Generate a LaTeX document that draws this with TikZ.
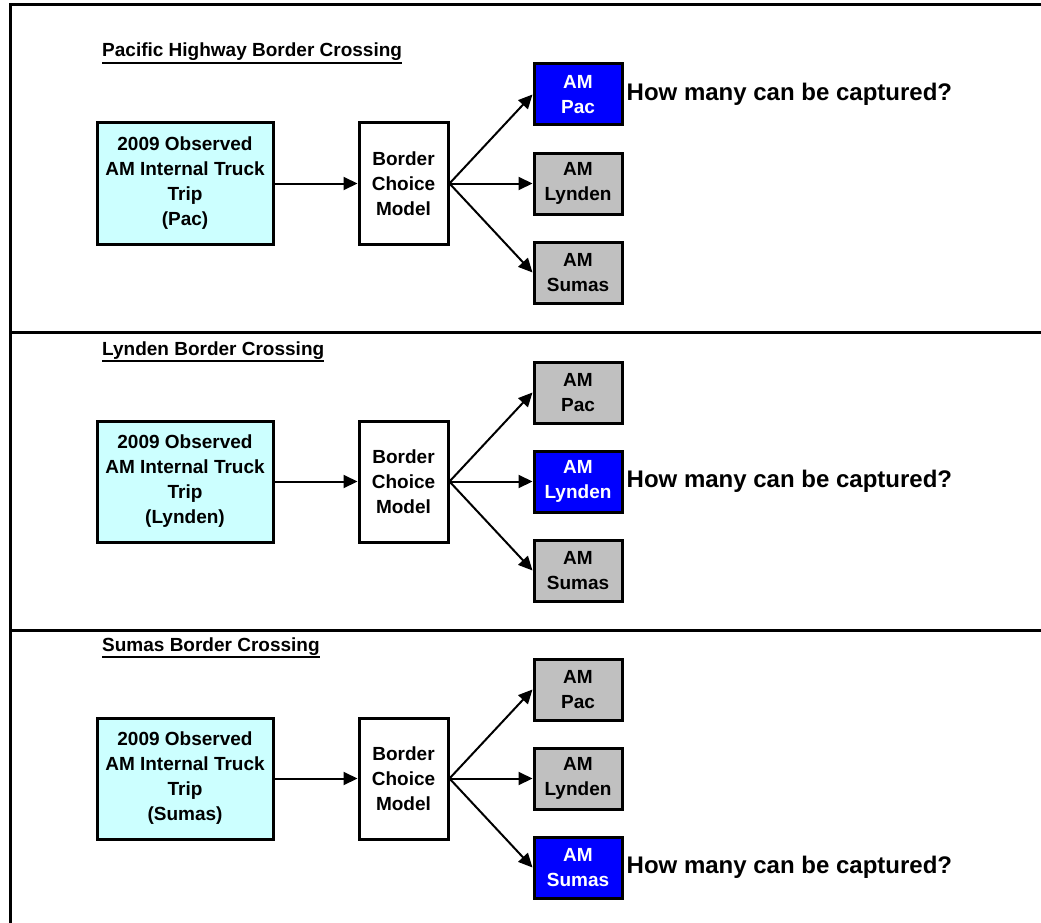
\documentclass[tikz,border=0pt]{standalone}
\usepackage{fontspec}
\setmainfont{Liberation Sans}
\usepackage{xcolor}
\usetikzlibrary{arrows.meta, positioning}

\definecolor{tripcyan}{RGB}{204,255,255}
\definecolor{gategray}{RGB}{192,192,192}
\definecolor{pickblue}{RGB}{0,0,255}

% underlined panel heading
\newcommand{\ulhead}[1]{\vtop{\hbox{#1}\kern1pt\hrule height 1.8pt}}

\begin{document}
\begin{tikzpicture}[
    x=1pt, y=-1pt,
    node distance=83pt,
    every node/.style={font=\bfseries\fontsize{19}{25}\selectfont},
    tripbox/.style={
        rectangle,
        minimum width=176pt,
        minimum height=121pt,
        align=center,
        fill=tripcyan,
        draw=black,
        line width=3pt
    },
    modelbox/.style={
        rectangle,
        minimum width=89pt,
        minimum height=121pt,
        align=center,
        fill=white,
        draw=black,
        line width=3pt
    },
    gatebox/.style={
        rectangle,
        minimum width=88pt,
        minimum height=61pt,
        align=center,
        fill=gategray,
        draw=black,
        line width=3pt
    },
    pickbox/.style={
        gatebox,
        fill=pickblue,
        text=white
    },
    heading/.style={anchor=base west, inner sep=0pt},
    question/.style={inner sep=2pt, font=\bfseries\fontsize{24}{28}\selectfont},
    arrow/.style={line width=2pt, -{Triangle[length=14pt, width=13pt]}}
]
\useasboundingbox (0,0) rectangle (1041,923);

% Panels
\draw[line width=3pt] (1041,4.5) -- (10.5,4.5) -- (10.5,923);
\draw[line width=3pt] (10.5,332) -- (1041,332);
\draw[line width=3pt] (10.5,630) -- (1041,630);

% Pacific Highway
\node (pachead) [heading] at (102,57) {\ulhead{Pacific Highway Border Crossing}};

\node (pactrip)  [tripbox] at (185,183.5)
    {2009 Observed\\AM Internal Truck\\Trip\\(Pac)};
\node (pacmodel) [modelbox, right=of pactrip] {Border\\Choice\\Model};
\node (paclyn)   [gatebox, right=of pacmodel] {AM\\Lynden};
\node (pacpac)   [pickbox, above=25pt of paclyn] {AM\\Pac};
\node (pacsum)   [gatebox, below=25pt of paclyn] {AM\\Sumas};
\node (pacq)     [question, right=1pt of pacpac] {How many can be captured?};

% Lynden
\node (lynhead) [heading] at (102,355) {\ulhead{Lynden Border Crossing}};

\node (lyntrip)  [tripbox] at (185,481.5)
    {2009 Observed\\AM Internal Truck\\Trip\\(Lynden)};
\node (lynmodel) [modelbox, right=of lyntrip] {Border\\Choice\\Model};
\node (lynlyn)   [pickbox, right=of lynmodel] {AM\\Lynden};
\node (lynpac)   [gatebox, above=25pt of lynlyn] {AM\\Pac};
\node (lynsum)   [gatebox, below=25pt of lynlyn] {AM\\Sumas};
\node (lynq)     [question, right=1pt of lynlyn] {How many can be captured?};

% Sumas
\node (sumhead) [heading] at (102,651) {\ulhead{Sumas Border Crossing}};

\node (sumtrip)  [tripbox] at (185,778.5)
    {2009 Observed\\AM Internal Truck\\Trip\\(Sumas)};
\node (summodel) [modelbox, right=of sumtrip] {Border\\Choice\\Model};
\node (sumlyn)   [gatebox, right=of summodel] {AM\\Lynden};
\node (sumpac)   [gatebox, above=25pt of sumlyn] {AM\\Pac};
\node (sumsum)   [pickbox, below=25pt of sumlyn] {AM\\Sumas};
\node (sumq)     [question, right=1pt of sumsum] {How many can be captured?};

% Arrows
\draw[arrow] (pactrip) -- (pacmodel);
\draw[arrow] (pacmodel.east) -- (pacpac.west);
\draw[arrow] (pacmodel.east) -- (paclyn.west);
\draw[arrow] (pacmodel.east) -- (pacsum.west);

\draw[arrow] (lyntrip) -- (lynmodel);
\draw[arrow] (lynmodel.east) -- (lynpac.west);
\draw[arrow] (lynmodel.east) -- (lynlyn.west);
\draw[arrow] (lynmodel.east) -- (lynsum.west);

\draw[arrow] (sumtrip) -- (summodel);
\draw[arrow] (summodel.east) -- (sumpac.west);
\draw[arrow] (summodel.east) -- (sumlyn.west);
\draw[arrow] (summodel.east) -- (sumsum.west);

\end{tikzpicture}
\end{document}
